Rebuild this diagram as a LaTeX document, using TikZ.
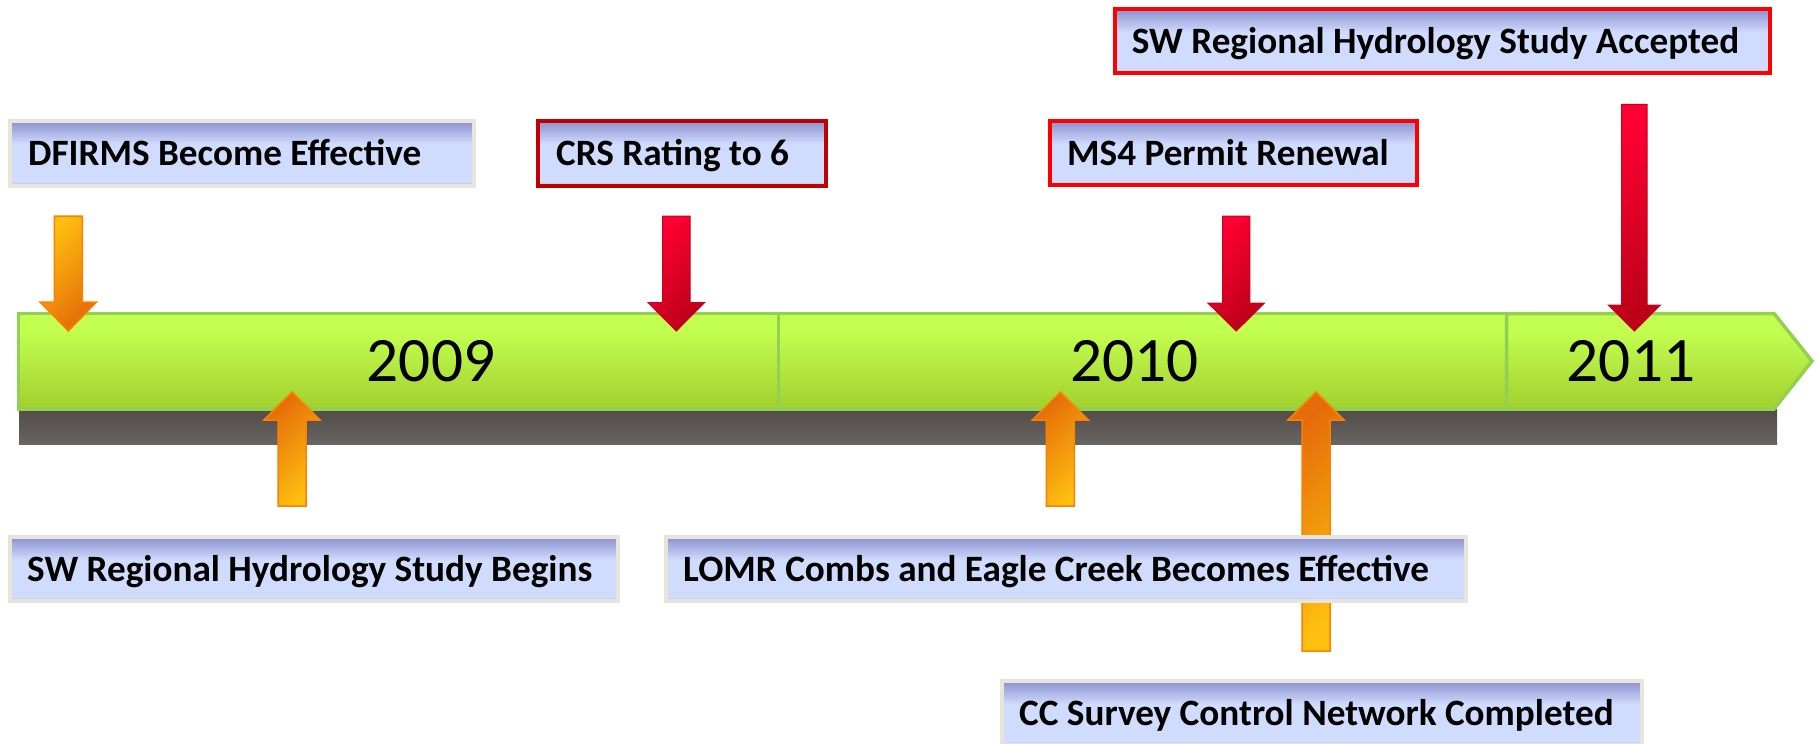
\documentclass[tikz,border=0pt]{standalone}
\usepackage{fontspec}
\setmainfont{Carlito}
\definecolor{boxtop}{RGB}{140,145,206}
\definecolor{boxlight}{RGB}{208,220,254}
\definecolor{boxbot}{RGB}{168,186,182}
\definecolor{beige}{RGB}{232,228,220}
\definecolor{darkred}{RGB}{192,0,0}
\definecolor{brightred}{RGB}{255,0,0}
\definecolor{bartop}{RGB}{194,255,80}
\definecolor{barmid}{RGB}{182,236,68}
\definecolor{barbot}{RGB}{162,208,44}
\definecolor{barline}{RGB}{146,208,80}
\definecolor{shtop}{RGB}{82,76,74}
\definecolor{shbot}{RGB}{104,100,97}
\definecolor{orlight}{RGB}{255,192,16}
\definecolor{ordark}{RGB}{228,108,10}
\definecolor{orline}{RGB}{255,128,0}
\definecolor{rdlight}{RGB}{255,0,51}
\definecolor{rddark}{RGB}{188,0,24}
\definecolor{rdline}{RGB}{200,0,30}
\pgfdeclareverticalshading{boxshade}{100bp}{color(0bp)=(boxbot); color(25bp)=(boxbot); color(28bp)=(boxlight); color(57bp)=(boxlight); color(75bp)=(boxtop); color(100bp)=(boxtop)}
\pgfdeclareverticalshading{barshade}{100bp}{color(0bp)=(barbot); color(25bp)=(barbot); color(50bp)=(barmid); color(66bp)=(bartop); color(100bp)=(bartop)}
% #1 style, #2 x, #3 tail y, #4 tip y, #5 shaft half, #6 head half, #7 head length
\newcommand\downblock[7]{\path[#1] (#2-#5,#3) -- (#2+#5,#3) -- (#2+#5,#4-#7) -- (#2+#6,#4-#7) -- (#2,#4) -- (#2-#6,#4-#7) -- (#2-#5,#4-#7) -- cycle;}
\newcommand\upblock[7]{\path[#1] (#2-#5,#3) -- (#2+#5,#3) -- (#2+#5,#4+#7) -- (#2+#6,#4+#7) -- (#2,#4) -- (#2-#6,#4+#7) -- (#2-#5,#4+#7) -- cycle;}
\tikzset{
  evbox/.style={shading=boxshade, draw=beige, line width=4pt},
  redbox/.style={evbox, draw=brightred},
  crsbox/.style={evbox, draw=darkred},
  evtext/.style={anchor=base west, inner sep=0pt, font=\fontsize{37.2}{42}\selectfont\bfseries},
  yeartext/.style={anchor=base, inner sep=0pt, font=\fontsize{63.3}{70}\selectfont},
  seg/.style={shading=barshade, draw=barline, line width=3.5pt, line join=miter},
  orarrowdn/.style={top color=orlight, bottom color=ordark, shading angle=45, draw=orline, line width=1.5pt},
  orarrowup/.style={top color=orlight, bottom color=ordark, shading angle=225, draw=orline, line width=1.5pt},
  rdarrow/.style={top color=rdlight, bottom color=rddark, shading angle=45, draw=rdline, line width=1pt},
}
\begin{document}
\begin{tikzpicture}[x=1pt,y=-1pt]
\useasboundingbox (0,0) rectangle (1818,744);
\clip (0,0) rectangle (1818,744);
% shadow under the bar
\path[top color=shtop, bottom color=shbot] (19,409) rectangle (1777,444);
% timeline bar segments
\path[seg] (18.5,313.5) rectangle (778.3,409);
\path[seg] (778.3,313.5) rectangle (1506.5,409);
\path[seg] (1506.5,313.5) -- (1774,313.5) -- (1812,361) -- (1774,409) -- (1506.5,409) -- cycle;
\node[yeartext] (y2009) at (431,381.7) {2009};
\node[yeartext] (y2010) at (1134.5,381.7) {2010};
\node[yeartext] (y2011) at (1631,381.7) {2011};
% block arrows
\downblock{orarrowdn}{68.3}{216}{331}{14}{28.3}{29}
\downblock{rdarrow}{676.3}{216}{331}{13.8}{28.3}{28.5}
\downblock{rdarrow}{1236.2}{216}{331}{13.7}{28.3}{28}
\downblock{rdarrow}{1634.3}{104.3}{331}{12.8}{26}{26}
\upblock{orarrowup}{292}{506}{392}{14}{28}{28}
\upblock{orarrowup}{1060.3}{506}{392}{14}{28}{28}
\upblock{orarrowup}{1316}{651}{392}{14}{28}{28}
% event boxes
\path[evbox] (10,121) rectangle (474,185.7);
\node[evtext] (dfirms) at (28,165.5) {DFIRMS Become Effective};
\path[crsbox] (538,121) rectangle (826,185.7);
\node[evtext] (crs) at (556,165.5) {CRS Rating to 6};
\path[redbox] (1050,121.3) rectangle (1416.8,185.3);
\node[evtext] (ms4) at (1067,165.8) {MS4 Permit Renewal};
\path[redbox] (1114.7,9.3) rectangle (1769.5,73.3);
\node[evtext] (swa) at (1131.7,53.8) {SW Regional Hydrology Study Accepted};
\path[evbox] (10,537) rectangle (617.6,601);
\node[evtext] (swb) at (27,581.5) {SW Regional Hydrology Study Begins};
\path[evbox] (666,537) rectangle (1466,601);
\node[evtext] (lomr) at (683,581.5) {LOMR Combs and Eagle Creek Becomes Effective};
\path[evbox] (1002,681.3) rectangle (1642,745.3);
\node[evtext] (cc) at (1019,725.5) {CC Survey Control Network Completed};
\end{tikzpicture}
\end{document}
